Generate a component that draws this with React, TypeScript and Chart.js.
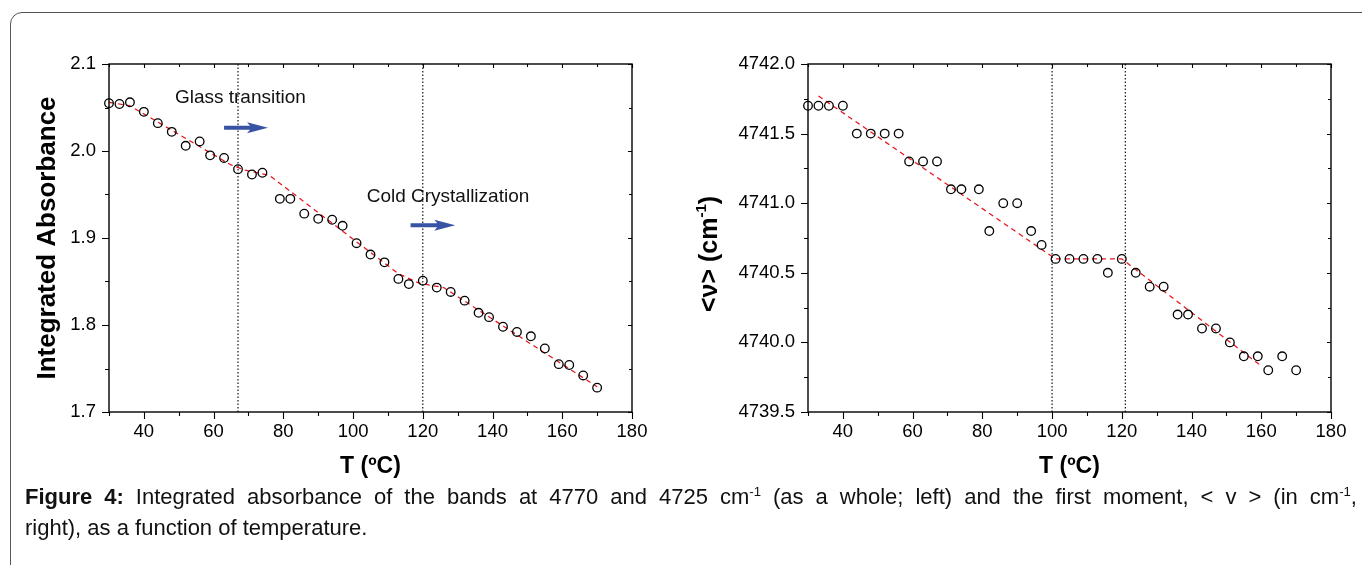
import React, { useEffect, useRef } from "react";
import { Chart, registerables } from "chart.js";

Chart.register(...registerables);

// ---------- data ----------
const temperature = [30, 33, 36, 40, 44, 48, 52, 56, 59, 63, 67, 71, 74, 79, 82, 86, 90, 94, 97, 101, 105, 109, 113, 116, 120, 124, 128, 132, 136, 139, 143, 147, 151, 155, 159, 162, 166, 170];
const absorbance = [2.055, 2.054, 2.056, 2.045, 2.032, 2.022, 2.006, 2.011, 1.995, 1.992, 1.979, 1.973, 1.975, 1.945, 1.945, 1.928, 1.922, 1.921, 1.914, 1.894, 1.881, 1.872, 1.853, 1.847, 1.851, 1.843, 1.838, 1.828, 1.814, 1.809, 1.798, 1.792, 1.787, 1.773, 1.755, 1.754, 1.742, 1.728];
const firstMoment = [4741.7, 4741.7, 4741.7, 4741.7, 4741.5, 4741.5, 4741.5, 4741.5, 4741.3, 4741.3, 4741.3, 4741.1, 4741.1, 4741.1, 4740.8, 4741.0, 4741.0, 4740.8, 4740.7, 4740.6, 4740.6, 4740.6, 4740.6, 4740.5, 4740.6, 4740.5, 4740.4, 4740.4, 4740.2, 4740.2, 4740.1, 4740.1, 4740.0, 4739.9, 4739.9, 4739.8, 4739.9, 4739.8];

const absorbanceFitT = [30, 36, 65, 69, 76, 113, 119, 126, 170];
const absorbanceFitY = [2.056, 2.052, 1.984, 1.978, 1.972, 1.859, 1.848, 1.843, 1.729];
const momentFitT = [33, 101, 120, 160];
const momentFitY = [4741.77, 4740.6, 4740.6, 4739.83];

const absorbanceTransitions = [67, 120];
const momentTransitions = [100, 121];

const temperatureTickLabels = [40, 60, 80, 100, 120, 140, 160, 180];
const absorbanceTickLabels = [1.7, 1.8, 1.9, 2.0, 2.1];
const momentTickLabels = [4739.5, 4740.0, 4740.5, 4741.0, 4741.5, 4742.0];

const FONT = '"Liberation Sans", Arial, Helvetica, sans-serif';

type Note = { text: string; tx: number; ty: number; ax1: number; ax2: number; ay: number };
type TitlePart = { text: string; sup?: boolean };
type Spec = {
  y: number[];
  fitT: number[];
  fitY: number[];
  transitions: number[];
  yMin: number;
  yMax: number;
  yStep: number;
  yLabels: number[];
  yAxisWidth: number;
  padRight: number;
  yTitle: TitlePart[];
  yTitleSize: number;
  yTitleOffset: number;
  yTitleDy: number;
  notes: Note[];
};

const near = (list: number[], v: number) => list.find((m) => Math.abs(m - v) < 1e-6);

function drawArrow(ctx: CanvasRenderingContext2D, x1: number, x2: number, y: number) {
  const head = 21;
  const hh = 5.5;
  const sh = 2;
  ctx.fillStyle = "#3853a4";
  ctx.beginPath();
  ctx.moveTo(x1, y - sh);
  ctx.lineTo(x2 - head + 3, y - sh);
  ctx.lineTo(x2 - head, y - hh);
  ctx.lineTo(x2, y);
  ctx.lineTo(x2 - head, y + hh);
  ctx.lineTo(x2 - head + 3, y + sh);
  ctx.lineTo(x1, y + sh);
  ctx.closePath();
  ctx.fill();
}

const decorPlugin = {
  id: "decor",
  afterDraw(chart: any, _args: any, opts: any) {
    const ctx: CanvasRenderingContext2D = chart.ctx;
    const a = chart.chartArea;
    const xs = chart.scales.x;
    const ys = chart.scales.y;
    ctx.save();
    // frame
    ctx.strokeStyle = "#000";
    ctx.lineWidth = 1.4;
    ctx.strokeRect(a.left, a.top, a.right - a.left, a.bottom - a.top);
    // ticks
    ctx.lineWidth = 1.1;
    ctx.beginPath();
    for (const t of xs.ticks) {
      const px = Math.round(xs.getPixelForValue(t.value)) + 0.5;
      const major = t.label !== "" && t.label !== undefined;
      ctx.moveTo(px, a.bottom);
      ctx.lineTo(px, a.bottom + (major ? 7 : 4));
      ctx.moveTo(px, a.top);
      ctx.lineTo(px, a.top + (major ? 4 : 3));
    }
    for (const t of ys.ticks) {
      const py = Math.round(ys.getPixelForValue(t.value)) + 0.5;
      const major = t.label !== "" && t.label !== undefined;
      ctx.moveTo(a.left, py);
      ctx.lineTo(a.left - (major ? 7 : 4), py);
      ctx.moveTo(a.right, py);
      ctx.lineTo(a.right - (major ? 4 : 3), py);
    }
    ctx.stroke();

    // annotations
    ctx.font = `19px ${FONT}`;
    ctx.textAlign = "left";
    ctx.textBaseline = "alphabetic";
    for (const n of opts.notes as Note[]) {
      ctx.fillStyle = "#111";
      ctx.fillText(n.text, xs.getPixelForValue(n.tx), ys.getPixelForValue(n.ty));
      drawArrow(ctx, xs.getPixelForValue(n.ax1), xs.getPixelForValue(n.ax2), ys.getPixelForValue(n.ay));
    }

    // x title
    ctx.fillStyle = "#000";
    ctx.font = `bold 23px ${FONT}`;
    ctx.textAlign = "center";
    ctx.textBaseline = "middle";
    ctx.fillText("T (ºC)", (a.left + a.right) / 2, a.bottom + 55);

    // y title (rotated, with optional superscript)
    const parts: TitlePart[] = opts.yTitle;
    const size: number = opts.yTitleSize;
    const supSize = Math.round(size * 0.6);
    const widthOf = (p: TitlePart) => {
      ctx.font = p.sup ? `bold ${supSize}px ${FONT}` : `bold ${size}px ${FONT}`;
      return ctx.measureText(p.text).width;
    };
    const total = parts.reduce((s, p) => s + widthOf(p), 0);
    ctx.translate(a.left + opts.yTitleOffset, (a.top + a.bottom) / 2 + opts.yTitleDy);
    ctx.rotate(-Math.PI / 2);
    ctx.textAlign = "left";
    let cx = -total / 2;
    for (const p of parts) {
      const w = widthOf(p);
      ctx.fillText(p.text, cx, p.sup ? -size * 0.33 : 0);
      cx += w;
    }
    ctx.restore();
  },
};

function buildConfig(spec: Spec): any {
  const points = temperature.map((t, i) => ({ x: t, y: spec.y[i] }));
  const fit = spec.fitT.map((t, i) => ({ x: t, y: spec.fitY[i] }));
  const verticals = spec.transitions.map((t) => ({
    data: [
      { x: t, y: spec.yMin },
      { x: t, y: spec.yMax },
    ],
    showLine: true,
    borderColor: "#000",
    borderWidth: 1.1,
    borderDash: [1.5, 2],
    pointRadius: 0,
    order: 3,
  }));
  const tickFont = { family: FONT, size: 18.5 };
  return {
    type: "scatter",
    data: {
      datasets: [
        {
          data: points,
          showLine: false,
          clip: false,
          pointStyle: "circle",
          pointRadius: 4.3,
          pointBorderWidth: 1.3,
          borderColor: "#000",
          backgroundColor: "rgba(0,0,0,0)",
          order: 0,
        },
        {
          data: fit,
          showLine: true,
          borderColor: "#e8141b",
          borderWidth: 1.25,
          borderDash: [5, 4],
          pointRadius: 0,
          order: 1,
        },
        ...verticals,
      ],
    },
    options: {
      animation: false,
      responsive: false,
      devicePixelRatio: 1,
      layout: { padding: { top: 64, right: spec.padRight, left: 0, bottom: 0 } },
      plugins: {
        legend: { display: false },
        tooltip: { enabled: false },
        decor: {
          notes: spec.notes,
          yTitle: spec.yTitle,
          yTitleSize: spec.yTitleSize,
          yTitleOffset: spec.yTitleOffset,
          yTitleDy: spec.yTitleDy,
        },
      },
      scales: {
        x: {
          type: "linear",
          position: "bottom",
          min: 30,
          max: 180,
          afterFit: (s: any) => {
            s.height = 78;
          },
          ticks: {
            stepSize: 10,
            autoSkip: false,
            maxRotation: 0,
            minRotation: 0,
            padding: 9,
            color: "#000",
            font: tickFont,
            callback: (v: number) => {
              const m = near(temperatureTickLabels, v);
              return m !== undefined ? String(m) : "";
            },
          },
          grid: { display: false, drawTicks: false },
          border: { display: false },
        },
        y: {
          type: "linear",
          position: "left",
          min: spec.yMin,
          max: spec.yMax,
          afterFit: (s: any) => {
            s.width = spec.yAxisWidth;
          },
          ticks: {
            stepSize: spec.yStep,
            autoSkip: false,
            padding: 13,
            color: "#000",
            font: tickFont,
            callback: (v: number) => {
              const m = near(spec.yLabels, v);
              return m !== undefined ? m.toFixed(1) : "";
            },
          },
          grid: { display: false, drawTicks: false },
          border: { display: false },
        },
      },
    },
    plugins: [decorPlugin],
  };
}

const absorbanceSpec: Spec = {
  y: absorbance,
  fitT: absorbanceFitT,
  fitY: absorbanceFitY,
  transitions: absorbanceTransitions,
  yMin: 1.7,
  yMax: 2.1,
  yStep: 0.05,
  yLabels: absorbanceTickLabels,
  yAxisWidth: 109,
  padRight: 48,
  yTitle: [{ text: "Integrated Absorbance" }],
  yTitleSize: 26,
  yTitleOffset: -61,
  yTitleDy: 0,
  notes: [
    { text: "Glass transition", tx: 48.9, ty: 2.0551, ax1: 63, ax2: 75.6, ay: 2.0267 },
    { text: "Cold Crystallization", tx: 103.9, ty: 1.9412, ax1: 116.5, ax2: 129.3, ay: 1.9146 },
  ],
};

const momentSpec: Spec = {
  y: firstMoment,
  fitT: momentFitT,
  fitY: momentFitY,
  transitions: momentTransitions,
  yMin: 4739.5,
  yMax: 4742.0,
  yStep: 0.25,
  yLabels: momentTickLabels,
  yAxisWidth: 128,
  padRight: 31,
  yTitle: [{ text: "<ν> (cm" }, { text: "-1", sup: true }, { text: ")" }],
  yTitleSize: 25,
  yTitleOffset: -98,
  yTitleDy: 16,
  notes: [],
};

function Panel({ spec, left, width, height }: { spec: Spec; left: number; width: number; height: number }) {
  const ref = useRef<HTMLCanvasElement>(null);
  useEffect(() => {
    const chart = new Chart(ref.current as HTMLCanvasElement, buildConfig(spec));
    return () => chart.destroy();
  }, [spec]);
  return (
    <canvas
      ref={ref}
      width={width}
      height={height}
      style={{ position: "absolute", left, top: 0, width, height }}
    />
  );
}

const supStyle: React.CSSProperties = { fontSize: "0.6em", verticalAlign: "0.6em", lineHeight: 0 };

export default function App() {
  return (
    <div
      style={{
        position: "fixed",
        left: 0,
        top: 0,
        width: 1362,
        height: 565,
        overflow: "hidden",
        background: "#fff",
      }}
    >
      <div
        style={{
          position: "absolute",
          left: 10,
          top: 12,
          width: 1400,
          height: 640,
          border: "1px solid #555",
          borderRadius: 12,
          boxSizing: "border-box",
        }}
      />
      <Panel spec={absorbanceSpec} left={0} width={680} height={490} />
      <Panel spec={momentSpec} left={680} width={682} height={490} />
      <div
        style={{
          position: "absolute",
          left: 25,
          top: 481,
          width: 1332,
          fontFamily: FONT,
          fontSize: 22,
          lineHeight: "31px",
          color: "#111",
        }}
      >
        <div style={{ textAlign: "justify", textAlignLast: "justify" }}>
          <b>Figure 4:</b> Integrated absorbance of the bands at 4770 and 4725 cm<sup style={supStyle}>-1</sup> (as a
          whole; left) and the first moment, &lt; v &gt; (in cm<sup style={supStyle}>-1</sup>,
        </div>
        <div>right), as a function of temperature.</div>
      </div>
    </div>
  );
}
